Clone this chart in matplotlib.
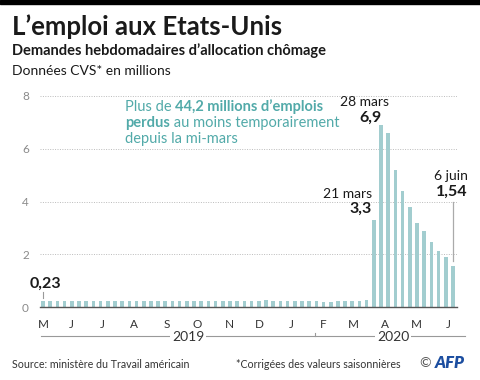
import datetime as dt
import matplotlib
matplotlib.use("Agg")
import matplotlib.pyplot as plt
from matplotlib.transforms import blended_transform_factory
from matplotlib.lines import Line2D

plt.rcParams['font.family'] = ['Lato', 'DejaVu Sans']

# Weekly initial jobless claims (millions), week ending 4 May 2019 -> 6 June 2020
start_date = dt.date(2019, 5, 4)
claims = [0.23, 0.21, 0.21, 0.21, 0.22, 0.22, 0.22, 0.22, 0.22, 0.21,
          0.21, 0.21, 0.21, 0.21, 0.22, 0.21, 0.21, 0.22, 0.21, 0.21,
          0.21, 0.22, 0.21, 0.22, 0.21, 0.22, 0.22, 0.22, 0.22, 0.21,
          0.21, 0.25, 0.23, 0.22, 0.22, 0.21, 0.21, 0.22, 0.22, 0.20,
          0.20, 0.21, 0.22, 0.22, 0.21, 0.28,
          3.3, 6.9, 6.6, 5.2, 4.4, 3.8, 3.2, 2.9, 2.45, 2.12, 1.9, 1.54]

month_labels = ["M", "J", "J", "A", "S", "O", "N", "D", "J", "F", "M", "A", "M", "J"]
month_starts = [dt.date(2019, m, 1) for m in range(5, 13)] + [dt.date(2020, m, 1) for m in range(1, 7)]
yticks = [0, 2, 4, 6, 8]

BAR = "#a2cdcf"
TEAL = "#52aaa9"
GRAY = "#8a8a8a"
DARK = "#1a1a1a"

fig = plt.figure(figsize=(4.8, 3.8), dpi=100)


def fx(px):
    return px / 480.0


def fy(py):
    return 1 - py / 380.0


# top black band
fig.patches.append(plt.Rectangle((0, fy(4)), 1, 4 / 380, transform=fig.transFigure,
                                 color="black", zorder=10))

fig.text(fx(12), fy(27), "L\u2019emploi aux Etats-Unis", fontsize=18.5, fontweight="bold",
         color=DARK, va="center", ha="left")
fig.text(fx(12), fy(51), "Demandes hebdomadaires d\u2019allocation chômage", fontsize=10.5,
         fontweight="bold", color=DARK, va="center", ha="left")
fig.text(fx(12), fy(71), "Données CVS* en millions", fontsize=10, color=DARK,
         va="center", ha="left")

ax = fig.add_axes([fx(40), fy(307), fx(417), 211 / 380])
x = list(range(len(claims)))
ax.bar(x, claims, width=0.5, color=BAR, zorder=2)
ax.set_xlim(-0.42, 57.56)
ax.set_ylim(0, 8)
ax.set_yticks(yticks)
ax.set_yticklabels([str(v) for v in yticks], color=GRAY, fontsize=8.5)
ax.tick_params(axis="y", length=0, pad=8)
ax.set_xticks([])
for s in ["top", "right", "left"]:
    ax.spines[s].set_visible(False)
ax.spines["bottom"].set_color("#555555")
ax.spines["bottom"].set_linewidth(1)
for v in yticks[1:]:
    ax.axhline(v, color="#bbbbbb", lw=0.7, ls=(0, (1, 1.5)), zorder=1)

# month labels
trans = blended_transform_factory(ax.transData, fig.transFigure)
for lab, d in zip(month_labels, month_starts):
    xi = max((d - start_date).days / 7.0, 0.1)
    ax.text(xi, fy(324), lab, transform=trans, ha="center", va="center", fontsize=8.5,
            color="#333333")

# year line
fig.add_artist(Line2D([fx(41), fx(465)], [fy(336), fy(336)], transform=fig.transFigure,
                      color="#999999", lw=0.8))
fig.add_artist(Line2D([fx(315), fx(315)], [fy(336), fy(333)], transform=fig.transFigure,
                      color="#999999", lw=0.8))
for xp, yr in [(188, "2019"), (393, "2020")]:
    fig.text(fx(xp), fy(337), yr, ha="center", va="center", fontsize=10, color="#333333",
             bbox=dict(facecolor="white", edgecolor="none", pad=1.5))

# annotations (text placed in figure pixels, leader lines in data coords)
fig.text(fx(30), fy(284), "0,23", fontsize=11.5, fontweight="bold", color=DARK,
         ha="left", va="center")
ax.plot([0, 0], [0.35, 0.55], color="#999999", lw=0.8)

fig.text(fx(365), fy(102), "28 mars", fontsize=10, color=DARK, ha="center", va="center")
fig.text(fx(371), fy(118), "6,9", fontsize=11.5, fontweight="bold", color=DARK,
         ha="center", va="center")

fig.text(fx(372), fy(194), "21 mars", fontsize=10, color=DARK, ha="right", va="center")
fig.text(fx(372), fy(209), "3,3", fontsize=11.5, fontweight="bold", color=DARK,
         ha="right", va="center")

fig.text(fx(468), fy(176), "6 juin", fontsize=10, color=DARK, ha="right", va="center")
fig.text(fx(468), fy(192), "1,54", fontsize=11.5, fontweight="bold", color=DARK,
         ha="right", va="center")
ax.plot([57, 57], [1.75, 4.0], color="#aaaaaa", lw=0.9)


def rich_line(xpx, ypx, parts):
    """Draw a line of text made of (string, bold) parts."""
    renderer = fig.canvas.get_renderer()
    cur = fx(xpx)
    for s, b in parts:
        t = fig.text(cur, fy(ypx), s, fontsize=10.5, color=TEAL, va="center", ha="left",
                     fontweight="bold" if b else "normal")
        bb = t.get_window_extent(renderer=renderer)
        cur += bb.width / fig.bbox.width


rich_line(125, 107, [("Plus de ", False), ("44,2 millions d\u2019emplois", True)])
rich_line(125, 123, [("perdus", True), (" au moins temporairement", False)])
rich_line(125, 139, [("depuis la mi-mars", False)])

# footer
fig.text(fx(12), fy(364), "Source: ministère du Travail américain", fontsize=7.7,
         color="#333333", va="center", ha="left")
fig.text(fx(236), fy(364), "*Corrigées des valeurs saisonnières", fontsize=7.7,
         color="#333333", va="center", ha="left")
fig.text(fx(419), fy(363), "©", fontsize=10, color="#555555", va="center", ha="left")
fig.text(fx(435), fy(363), "AFP", fontsize=12, fontweight="heavy", style="italic",
         color="#1c4ea0", va="center", ha="left")

fig.savefig("out.png", dpi=100, facecolor="white")
